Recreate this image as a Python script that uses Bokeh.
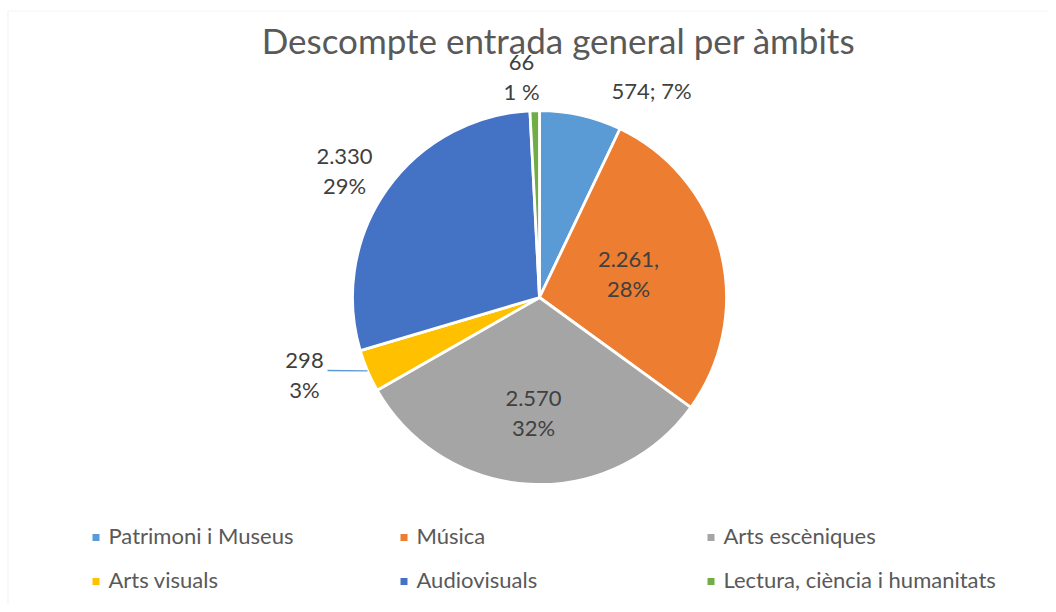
import numpy as np
from bokeh.plotting import figure
from bokeh.models import Range1d, ColumnDataSource, BoxAnnotation
from bokeh.core.properties import value
from bokeh.embed import file_html
from bokeh.resources import INLINE

# ---------------- data ----------------
title = "Descompte entrada general per àmbits"
categories = ["Patrimoni i Museus", "Música", "Arts escèniques",
              "Arts visuals", "Audiovisuals", "Lectura, ciència i humanitats"]
values = [574, 2261, 2570, 298, 2330, 66]
percent_labels = ["7%", "28%", "32%", "3%", "29%", "1 %"]
label_separators = ["; ", ",\n", "\n", "\n", "\n", "\n"]
colors = ["#5B9BD5", "#ED7D31", "#A5A5A5", "#FFC000", "#4472C4", "#70AD47"]

# ---------------- style / layout ----------------
W, H = 1048, 604
TOP = H  # data_y = TOP - screen_y
cx, cy_screen, R = 539, 297, 187
cy = TOP - cy_screen
FONT = value("Lato")
# label centre offsets from pie centre (screen px)
label_dx = [112, 89, -6, -235, -195, -18]
label_dy = [-207, -24, 115, 77, -127, -221]
line_gap = 14.5
leader_start = {3: (-212, 73)}  # screen offsets from pie centre

p = figure(width=W, height=H, x_range=Range1d(0, W), y_range=Range1d(0, H),
           x_axis_type=None, y_axis_type=None, output_backend="svg",
           toolbar_location=None, min_border=0)
p.grid.visible = False
p.outline_line_color = None
p.background_fill_color = "white"
p.border_fill_color = "white"

# chart border
p.add_layout(BoxAnnotation(left=7.5, right=1200, top=TOP - 10.5, bottom=-100,
                           fill_alpha=0, line_color="#d9d9d9", line_width=1.2))

# wedges
vals = np.array(values, dtype=float)
total = vals.sum()
cum = np.concatenate([[0.0], np.cumsum(vals)]) / total
start = np.pi / 2 - 2 * np.pi * cum[:-1]
end = np.pi / 2 - 2 * np.pi * cum[1:]
mid = (start + end) / 2

src = ColumnDataSource(dict(start=start, end=end, color=colors, cat=categories))
p.wedge(x=cx, y=cy, radius=R, start_angle="start", end_angle="end",
        direction="clock", fill_color="color", line_color="white",
        line_width=2.8, source=src)

# data labels
def fmt(v):
    return f"{v:,}".replace(",", ".")

line1, line2, l1x, l1y, l2x, l2y = [], [], [], [], [], []
for i, v in enumerate(values):
    full = fmt(v) + label_separators[i] + percent_labels[i]
    parts = full.split("\n")
    x = cx + label_dx[i]
    ys = TOP - (cy_screen + label_dy[i])
    if len(parts) == 1:
        line1.append(parts[0]); l1x.append(x); l1y.append(ys)
    else:
        line1.append(parts[0]); l1x.append(x); l1y.append(ys + line_gap)
        line2.append(parts[1]); l2x.append(x); l2y.append(ys - line_gap)

p.text(x=l1x, y=l1y, text=line1, text_font=FONT, text_font_size="22px",
       text_color="#404040", text_align="center", text_baseline="middle")
p.text(x=l2x, y=l2y, text=line2, text_font=FONT, text_font_size="22px",
       text_color="#404040", text_align="center", text_baseline="middle")

# leader line for small slice
for i, (sdx, sdy) in leader_start.items():
    ex = cx + R * np.cos(mid[i])
    ey = cy + R * np.sin(mid[i])
    p.line(x=[cx + sdx, ex], y=[cy - sdy, ey], line_color="#5B9BD5", line_width=1.3)

# title
p.text(x=[558], y=[TOP - 39], text=[title], text_font=FONT, text_font_size="35px",
       text_color="#595959", text_align="center", text_baseline="middle")

# legend
col_x = [95.5, 403.5, 710.5]
row_y = [537, 581]
lx = [col_x[i % 3] for i in range(len(categories))]
ly = [TOP - row_y[i // 3] for i in range(len(categories))]
p.scatter(x=lx, y=ly, marker="square", size=7, fill_color=colors, line_color=None)
p.text(x=[x + 12.5 for x in lx], y=[y + 2 for y in ly], text=categories, text_font=FONT,
       text_font_size="22px", text_color="#595959", text_align="left",
       text_baseline="middle")

open("out.html", "w").write(file_html(p, INLINE))
